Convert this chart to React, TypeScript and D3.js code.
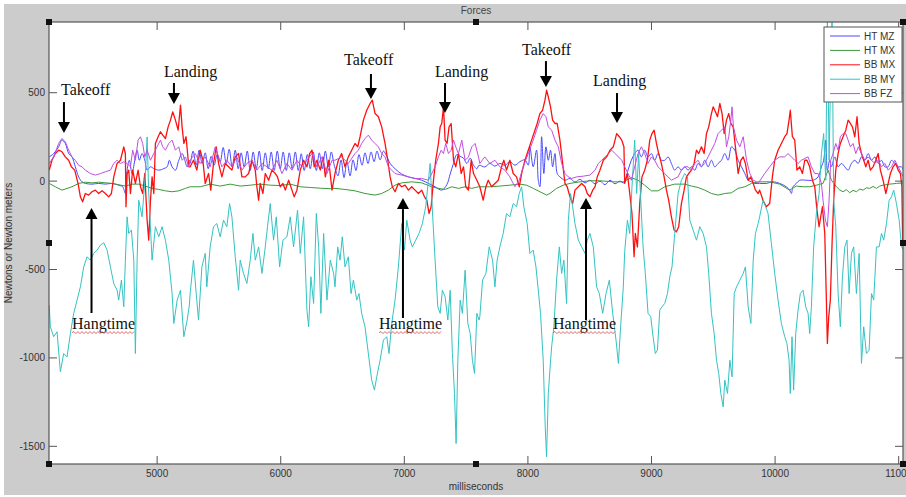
import React from 'react';
import * as d3 from 'd3';

// ---- axes ----
const X_DOMAIN: [number, number] = [4125, 11035];
const Y_DOMAIN: [number, number] = [-1600, 900];
const X_TICKS = [5000, 6000, 7000, 8000, 9000, 10000, 11000];
const Y_TICKS = [-1500, -1000, -500, 0, 500];

type Pt = [number, number]; // [milliseconds, value]

// ---- series: HT MZ ----
const htMz: Pt[] = [
  [4127, 137], [4163, 156], [4203, 194], [4230, 232], [4257, 213], [4284, 156], [4311, 137], [4338, 81],
  [4365, 24], [4392, -4], [4419, -13], [4473, -17], [4527, -13], [4581, -17], [4635, -13], [4689, -23],
  [4721, -32], [4743, -70], [4757, 62], [4775, 118], [4797, 43], [4819, 118], [4838, 175], [4856, 118],
  [4878, 156], [4900, 118], [4919, 62], [4946, 81], [4973, 71], [5013, 62], [5054, 71], [5081, 81],
  [5099, 118], [5121, 81], [5148, 62], [5175, 118], [5202, 156], [5224, 118], [5243, 81], [5261, 118],
  [5267, 100], [5291, 170], [5316, 90], [5340, 175], [5364, 100], [5389, 160], [5413, 70], [5437, 140],
  [5461, 90], [5486, 150], [5510, 110], [5534, 190], [5559, 100], [5583, 180], [5607, 80], [5632, 175],
  [5656, 70], [5680, 160], [5704, 80], [5729, 170], [5753, 60], [5777, 165], [5802, 70], [5826, 170],
  [5850, 60], [5875, 160], [5899, 70], [5923, 165], [5947, 60], [5972, 170], [5996, 70], [6020, 165],
  [6045, 60], [6069, 160], [6093, 70], [6118, 165], [6142, 60], [6166, 155], [6190, 60], [6215, 150],
  [6239, 70], [6263, 165], [6288, 60], [6312, 160], [6336, 70], [6361, 170], [6385, 80], [6409, 165],
  [6433, 90], [6463, 30], [6488, 120], [6512, 20], [6536, 110], [6561, 30], [6585, 120], [6609, 60],
  [6633, 150], [6658, 90], [6682, 160], [6706, 100], [6731, 165], [6755, 110], [6779, 170], [6804, 120],
  [6831, 170], [6858, 140], [6885, 100], [6925, 70], [6979, 40], [7033, 24], [7087, 15], [7141, 5],
  [7195, -13], [7249, -32], [7303, -51], [7344, -20], [7371, 40], [7398, 100], [7425, 150], [7452, 140],
  [7479, 130], [7506, 100], [7533, 130], [7560, 90], [7587, 70], [7605, 90], [7651, 80], [7692, 100],
  [7733, 85], [7773, 100], [7814, 90], [7854, 110], [7895, 90], [7935, 110], [7976, 120], [8003, 90],
  [8016, 194], [8043, 81], [8070, 175], [8084, 5], [8097, -32], [8111, 251], [8129, 43], [8146, 194],
  [8165, 118], [8183, 175], [8200, 81], [8219, 156], [8237, 43], [8259, 24], [8300, 5], [8340, 15],
  [8381, -5], [8421, 10], [8462, -10], [8502, 5], [8543, -15], [8583, 0], [8624, -20], [8664, 5],
  [8705, -15], [8745, 0], [8777, -10], [8810, 62], [8837, 118], [8864, 156], [8891, 175], [8918, 137],
  [8945, 175], [8972, 137], [8999, 156], [9026, 118], [9053, 156], [9080, 118], [9107, 118], [9134, 137],
  [9161, 100], [9188, 62], [9215, 81], [9242, 62], [9269, 81], [9296, 62], [9323, 81], [9350, 62],
  [9377, 100], [9404, 81], [9431, 118], [9458, 81], [9485, 118], [9512, 81], [9539, 100], [9566, 118],
  [9593, 156], [9620, 118], [9647, 194], [9674, 175], [9701, 118], [9728, 81], [9755, 43], [9782, 5],
  [9809, -4], [9836, -13], [9875, -13], [9929, -13], [9983, -4], [10037, -13], [10091, -32], [10118, -51],
  [10132, -70], [10145, -32], [10172, -13], [10199, 5], [10253, 5], [10307, 5], [10348, 24], [10375, 81],
  [10393, 118], [10410, 232], [10423, 62], [10442, 118], [10456, 81], [10483, 137], [10510, 81], [10537, 100],
  [10564, 81], [10591, 62], [10618, 100], [10645, 118], [10672, 100], [10699, 137], [10726, 118], [10753, 156],
  [10780, 118], [10807, 137], [10834, 100], [10861, 118], [10888, 81], [10915, 81], [10942, 118], [10969, 100],
  [10996, 81], [11023, 81], [11039, 62],
];

// ---- series: HT MX ----
const htMx: Pt[] = [
  [4127, -13], [4176, -32], [4230, -51], [4311, -32], [4365, -13], [4419, -6], [4473, -10], [4527, -6],
  [4635, -13], [4743, -28], [4797, -17], [4851, -17], [4905, -28], [4959, -41], [5013, -47], [5067, -55],
  [5121, -60], [5175, -55], [5229, -41], [5267, -32], [5348, -32], [5429, -17], [5510, -28], [5591, -17],
  [5672, -28], [5753, -23], [5834, -17], [5915, -23], [5996, -25], [6077, -17], [6158, -32], [6239, -36],
  [6320, -40], [6401, -43], [6439, -41], [6520, -47], [6601, -55], [6682, -70], [6763, -79], [6817, -70],
  [6871, -51], [6925, -23], [6979, -10], [7060, -4], [7141, -10], [7222, -32], [7276, -41], [7330, -47],
  [7384, -32], [7438, -41], [7492, -32], [7546, -41], [7600, -32], [7692, -32], [7773, -28], [7854, -23],
  [7935, -17], [7989, -23], [8043, -41], [8097, -60], [8151, -79], [8178, -70], [8232, -41], [8286, -23],
  [8340, -13], [8421, -4], [8502, 2], [8583, 2], [8691, -4], [8772, -4], [8837, 20], [8891, 5],
  [8945, -23], [8999, -55], [9053, -55], [9107, -32], [9188, -17], [9269, -17], [9323, -28], [9377, -36],
  [9431, -51], [9485, -70], [9539, -79], [9593, -70], [9647, -66], [9701, -41], [9755, -32], [9809, -13],
  [9863, -4], [9956, -4], [10037, -17], [10118, -51], [10172, -28], [10226, -32], [10280, -32], [10334, -23],
  [10388, -13], [10429, 62], [10456, 5], [10496, -32], [10523, -50], [10550, -60], [10577, -48], [10604, -66],
  [10631, -52], [10658, -60], [10685, -45], [10712, -51], [10739, -38], [10766, -41], [10793, -30], [10820, -41],
  [10847, -28], [10874, -23], [10928, -17], [10982, -13], [11039, -10],
];

// ---- series: BB MX ----
const bbMx: Pt[] = [
  [4127, 62], [4149, 118], [4176, 156], [4203, 175], [4230, 166], [4257, 137], [4284, 118], [4306, 81],
  [4333, 62], [4360, -13], [4379, -89], [4397, -117], [4419, -70], [4446, -79], [4473, -60], [4500, -51],
  [4527, -70], [4554, -55], [4581, -70], [4608, -89], [4630, -70], [4649, 24], [4676, 100], [4703, 118],
  [4730, 194], [4743, 156], [4748, -145], [4757, 43], [4770, 62], [4784, -70], [4802, 62], [4824, -13],
  [4846, 62], [4865, -32], [4883, -70], [4900, 43], [4919, -221], [4932, -334], [4946, -108], [4959, 24],
  [4973, -70], [4986, 213], [5008, 251], [5027, 279], [5045, 260], [5067, 241], [5089, 307], [5108, 345],
  [5126, 392], [5148, 345], [5170, 288], [5189, 430], [5202, 307], [5216, 213], [5234, 251], [5256, 81],
  [5267, 81], [5294, 118], [5321, 62], [5348, 175], [5370, 118], [5389, -13], [5416, 43], [5434, -51],
  [5456, 100], [5478, 194], [5497, 100], [5524, 24], [5551, 100], [5578, 81], [5605, 62], [5632, 137],
  [5659, 156], [5686, 24], [5713, 24], [5740, 43], [5767, 118], [5794, 62], [5807, -32], [5821, -108],
  [5834, -13], [5856, -70], [5875, 43], [5902, 5], [5929, 62], [5956, 43], [5974, 24], [5996, -32],
  [6018, -13], [6037, -51], [6064, 5], [6091, -51], [6109, -89], [6131, -51], [6158, 62], [6185, 118],
  [6212, 81], [6234, 156], [6253, 175], [6271, 81], [6293, 118], [6320, 62], [6342, 137], [6361, 24],
  [6388, 118], [6415, -51], [6439, 43], [6466, 118], [6493, 156], [6520, 81], [6547, 137], [6574, 175],
  [6601, 213], [6623, 194], [6642, 251], [6669, 345], [6696, 401], [6723, 439], [6741, 458], [6763, 382],
  [6790, 364], [6817, 307], [6844, 213], [6866, 118], [6885, 24], [6903, -32], [6925, -60], [6952, -13],
  [6979, -32], [7006, -23], [7033, -51], [7060, -32], [7087, -51], [7114, -70], [7141, -51], [7163, -89],
  [7182, -108], [7200, -183], [7217, -145], [7236, 5], [7254, 118], [7276, 213], [7290, 307], [7303, 326],
  [7317, 420], [7330, 232], [7346, 213], [7362, 307], [7379, 326], [7398, 118], [7416, 81], [7438, 156],
  [7460, 43], [7479, 81], [7497, -32], [7519, -51], [7541, 118], [7560, 43], [7587, 5], [7611, -32],
  [7638, -108], [7660, -32], [7679, 5], [7706, -32], [7733, -13], [7760, 5], [7787, 81], [7805, 118],
  [7827, 62], [7854, 118], [7881, 43], [7908, 24], [7930, -32], [7949, 43], [7976, 118], [8003, 175],
  [8030, 232], [8057, 288], [8075, 326], [8097, 382], [8119, 401], [8138, 458], [8151, 514], [8165, 477],
  [8183, 420], [8200, 345], [8219, 326], [8237, 326], [8259, 232], [8281, 100], [8300, -13], [8318, -32],
  [8340, -89], [8362, -127], [8381, -51], [8408, -32], [8435, -13], [8462, -32], [8480, -70], [8502, -89],
  [8524, -51], [8543, -32], [8561, 24], [8583, 62], [8610, 118], [8637, 137], [8664, 175], [8691, 194],
  [8718, 269], [8740, 251], [8759, 232], [8777, 194], [8783, -13], [8805, 43], [8824, -70], [8842, -183],
  [8859, -428], [8869, -296], [8886, -372], [8905, -127], [8923, 24], [8945, 62], [8967, 118], [8986, 232],
  [9004, 269], [9021, 288], [9040, 213], [9058, 156], [9080, 100], [9102, 24], [9121, -51], [9139, -108],
  [9161, -202], [9183, -277], [9202, -287], [9220, -258], [9242, -127], [9264, -51], [9283, 24], [9301, 43],
  [9323, 62], [9345, 100], [9364, 175], [9382, 156], [9404, 194], [9426, 156], [9445, 269], [9463, 307],
  [9485, 382], [9499, 420], [9512, 401], [9534, 364], [9553, 439], [9571, 382], [9588, 269], [9607, 345],
  [9625, 382], [9642, 326], [9661, 307], [9679, 194], [9701, 43], [9723, 118], [9742, 137], [9760, 100],
  [9782, 5], [9804, 24], [9823, -13], [9841, -51], [9863, -70], [9875, -51], [9902, -108], [9929, -145],
  [9956, -127], [9978, 24], [9997, 118], [10024, 175], [10051, 213], [10078, 251], [10096, 269], [10113, 345],
  [10123, 401], [10140, 251], [10159, 232], [10177, 62], [10199, 81], [10221, 43], [10240, 118], [10258, 118],
  [10280, 81], [10302, 5], [10321, -32], [10339, -164], [10356, -258], [10369, -202], [10383, -145], [10402, -296],
  [10415, -673], [10423, -918], [10434, -767], [10447, -673], [10461, -353], [10474, -108], [10491, 62], [10510, 156],
  [10528, 213], [10550, 251], [10572, 288], [10591, 345], [10609, 326], [10626, 307], [10645, 251], [10663, 364],
  [10680, 213], [10699, 156], [10717, 118], [10734, 81], [10753, 118], [10771, 62], [10793, 81], [10815, 118],
  [10834, 156], [10852, 62], [10874, 5], [10896, -70], [10915, -13], [10933, 43], [10955, 81], [10977, 100],
  [10996, 62], [11014, 43], [11026, -32], [11032, -340],
];

// ---- series: BB MY ----
const bbMy: Pt[] = [
  [4127, -701], [4136, -824], [4163, -880], [4190, -852], [4217, -1078], [4244, -975], [4271, -994], [4298, -862],
  [4325, -748], [4352, -673], [4379, -598], [4406, -485], [4433, -428], [4460, -447], [4487, -409], [4514, -390],
  [4541, -362], [4568, -349], [4595, -390], [4622, -485], [4649, -579], [4676, -617], [4689, -673], [4711, -560],
  [4730, -711], [4743, -447], [4757, -202], [4770, -296], [4792, -277], [4811, -447], [4824, -975], [4838, -447],
  [4851, -108], [4878, -202], [4905, 43], [4919, 250], [4932, -70], [4959, -447], [4986, -258], [5013, -315],
  [5040, -258], [5067, -334], [5094, -447], [5121, -636], [5135, -805], [5162, -673], [5189, -617], [5216, -880],
  [5243, -786], [5261, -700], [5267, -636], [5294, -447], [5316, -636], [5335, -786], [5362, -485], [5389, -409],
  [5402, -598], [5429, -372], [5456, -258], [5483, -240], [5510, -315], [5537, -221], [5564, -258], [5586, -127],
  [5605, -202], [5632, -428], [5659, -617], [5672, -447], [5699, -522], [5726, -579], [5753, -447], [5775, -296],
  [5794, -447], [5821, -372], [5848, -522], [5875, -372], [5893, -258], [5915, -127], [5942, -334], [5964, -202],
  [5991, -485], [6018, -334], [6050, -315], [6077, -202], [6104, -372], [6136, -164], [6158, -409], [6185, -202],
  [6212, -730], [6226, -824], [6244, -541], [6266, -692], [6288, -183], [6307, -372], [6325, -748], [6347, -296],
  [6374, -673], [6401, -447], [6428, -522], [6439, -598], [6461, -372], [6480, -447], [6498, -315], [6520, -485],
  [6547, -428], [6569, -636], [6588, -560], [6615, -673], [6633, -636], [6655, -748], [6682, -824], [6709, -975],
  [6736, -1126], [6758, -1182], [6777, -1107], [6804, -1013], [6831, -899], [6858, -880], [6876, -975], [6898, -805],
  [6925, -673], [6952, -485], [6979, -240], [7001, -390], [7020, -221], [7047, -334], [7065, -372], [7092, -334],
  [7119, -296], [7146, -240], [7173, -145], [7195, 5], [7209, 100], [7227, -164], [7249, -447], [7271, -711],
  [7290, -748], [7308, -617], [7330, -654], [7352, -786], [7371, -617], [7389, -975], [7406, -1201], [7419, -1484],
  [7433, -1013], [7452, -673], [7470, -748], [7492, -504], [7514, -805], [7533, -862], [7551, -1013], [7568, -1088],
  [7587, -748], [7605, -786], [7611, -767], [7633, -560], [7660, -522], [7687, -372], [7714, -447], [7733, -598],
  [7751, -447], [7773, -372], [7800, -296], [7827, -183], [7854, -202], [7881, -127], [7908, -145], [7930, -70],
  [7949, -32], [7967, -145], [7994, -240], [8016, -409], [8043, -390], [8065, -485], [8084, -617], [8102, -748],
  [8124, -1013], [8140, -1390], [8151, -1559], [8165, -1201], [8178, -1069], [8192, -937], [8210, -824], [8232, -560],
  [8254, -372], [8273, -522], [8291, -447], [8313, -692], [8327, -221], [8345, -70], [8362, -145], [8381, -240],
  [8408, -334], [8435, -372], [8462, -409], [8480, -334], [8502, -296], [8529, -372], [8556, -598], [8578, -636],
  [8605, -748], [8632, -636], [8659, -560], [8686, -748], [8713, -899], [8732, -1031], [8750, -824], [8772, -598],
  [8783, -400], [8805, -221], [8824, -296], [8842, -32], [8864, 232], [8880, -70], [8896, 156], [8913, -108],
  [8932, -372], [8950, -522], [8972, -748], [8994, -767], [9013, -880], [9031, -975], [9048, -956], [9067, -730],
  [9085, -711], [9107, -692], [9129, -636], [9148, -541], [9166, -485], [9188, -296], [9215, -70], [9242, 5],
  [9269, 43], [9291, 24], [9310, -221], [9337, -277], [9364, -334], [9391, -258], [9418, -296], [9445, -372],
  [9463, -522], [9485, -748], [9507, -862], [9526, -1013], [9544, -1088], [9561, -1201], [9580, -1277], [9593, -1126],
  [9615, -1201], [9634, -1013], [9652, -1107], [9669, -636], [9688, -598], [9715, -560], [9742, -522], [9760, -485],
  [9782, -711], [9804, -805], [9823, -447], [9841, -296], [9863, -240], [9875, -202], [9902, -108], [9924, -145],
  [9943, -183], [9970, -353], [9997, -522], [10024, -673], [10051, -805], [10078, -880], [10096, -918], [10113, -1013],
  [10123, -1201], [10137, -880], [10150, -1182], [10167, -862], [10186, -730], [10204, -636], [10226, -617], [10248, -711],
  [10267, -748], [10280, -862], [10294, -711], [10312, -372], [10334, -183], [10356, -70], [10375, 156], [10393, 269],
  [10410, 5], [10423, 950], [10437, 118], [10447, 496], [10461, 950], [10474, -108], [10491, -258], [10510, -636],
  [10528, -824], [10545, -541], [10564, -372], [10582, -334], [10599, -636], [10618, -409], [10636, -372], [10658, -636],
  [10680, -409], [10699, -1031], [10717, -824], [10739, -975], [10761, -956], [10780, -636], [10798, -673], [10820, -372],
  [10842, -372], [10861, -296], [10879, -334], [10901, -240], [10923, -108], [10942, -89], [10960, -51], [10982, -127],
  [11004, -221], [11023, -372], [11039, -390],
];

// ---- series: BB FZ ----
const bbFz: Pt[] = [
  [4127, 100], [4163, 137], [4203, 213], [4230, 241], [4257, 222], [4284, 175], [4311, 137], [4338, 118],
  [4365, 89], [4392, 81], [4419, 62], [4460, 43], [4500, 34], [4541, 43], [4581, 53], [4622, 62],
  [4649, 100], [4676, 118], [4703, 100], [4730, 109], [4757, 100], [4784, 81], [4802, 175], [4824, 118],
  [4846, 232], [4865, 251], [4883, 213], [4900, 137], [4919, 175], [4946, 118], [4973, 156], [4999, 194],
  [5027, 232], [5045, 194], [5067, 175], [5094, 213], [5121, 232], [5148, 175], [5175, 194], [5202, 118],
  [5229, 137], [5256, 81], [5267, 118], [5308, 156], [5348, 100], [5389, 137], [5429, 81], [5470, 194],
  [5497, 137], [5524, 81], [5564, 118], [5605, 81], [5645, 137], [5686, 62], [5726, 100], [5767, 118],
  [5807, 62], [5848, 100], [5888, 81], [5929, 62], [5969, 118], [6010, 43], [6050, 100], [6091, 62],
  [6131, 118], [6172, 81], [6212, 118], [6253, 156], [6293, 81], [6334, 137], [6374, 43], [6415, 118],
  [6439, 118], [6493, 137], [6547, 100], [6601, 156], [6628, 175], [6655, 213], [6682, 241], [6709, 260],
  [6736, 232], [6763, 213], [6790, 194], [6817, 156], [6844, 137], [6871, 81], [6898, 62], [6925, 43],
  [6979, 34], [7033, 24], [7087, 15], [7141, 15], [7195, 5], [7249, 81], [7276, 137], [7298, 175],
  [7317, 156], [7335, 213], [7357, 156], [7379, 175], [7398, 232], [7416, 194], [7438, 156], [7465, 232],
  [7492, 118], [7519, 137], [7546, 194], [7573, 213], [7600, 137], [7611, 100], [7651, 137], [7692, 100],
  [7733, 118], [7773, 81], [7814, 62], [7854, 24], [7895, -32], [7930, 5], [7962, 81], [8003, 156],
  [8043, 232], [8070, 288], [8097, 345], [8124, 382], [8146, 364], [8165, 307], [8192, 288], [8219, 232],
  [8246, 194], [8273, 100], [8300, 43], [8327, 24], [8354, 15], [8394, 24], [8448, 28], [8502, 34],
  [8543, 62], [8570, 100], [8597, 118], [8624, 137], [8651, 156], [8678, 175], [8705, 156], [8732, 137],
  [8759, 118], [8777, 90], [8810, 43], [8837, 5], [8864, 81], [8891, 156], [8918, 194], [8945, 156],
  [8972, 100], [8999, 137], [9026, 118], [9053, 81], [9080, 62], [9107, 43], [9134, 24], [9161, 5],
  [9188, 15], [9215, 24], [9242, 62], [9269, 81], [9296, 81], [9323, 62], [9350, 100], [9377, 118],
  [9404, 81], [9431, 100], [9458, 137], [9485, 175], [9512, 213], [9539, 269], [9566, 288], [9593, 307],
  [9607, 194], [9625, 251], [9642, 345], [9652, 420], [9663, 307], [9688, 232], [9715, 194], [9742, 251],
  [9769, 118], [9796, 43], [9823, 5], [9850, -4], [9863, -13], [9875, 0], [9916, 43], [9956, 81],
  [9997, 118], [10037, 137], [10078, 137], [10105, 156], [10132, 137], [10159, 118], [10186, 100], [10213, 118],
  [10240, 128], [10267, 137], [10294, 81], [10321, 43], [10348, 43], [10375, -13], [10388, -108], [10407, -221],
  [10423, -258], [10437, -108], [10450, 118], [10469, 156], [10491, 213], [10510, 175], [10528, 251], [10550, 269],
  [10572, 269], [10591, 232], [10609, 194], [10631, 213], [10653, 156], [10674, 194], [10699, 156], [10726, 118],
  [10753, 137], [10780, 118], [10807, 100], [10834, 118], [10861, 81], [10888, 100], [10915, 62], [10942, 81],
  [10969, 118], [10996, 81], [11023, 43], [11039, 24],
];

const SERIES_NAMES = ['HT MZ', 'HT MX', 'BB MX', 'BB MY', 'BB FZ'];
const SERIES_COLORS = ['#4a4aff', '#3a9a3a', '#ff1010', '#33c3c3', '#c24ee0'];
const SERIES_DATA = [htMz, htMx, bbMx, bbMy, bbFz];

// ---- event annotations: label, arrow (ms, from, to), text anchor (ms, baseline value) ----
const EVENT_LABELS = ['Takeoff', 'Landing', 'Takeoff', 'Landing', 'Takeoff', 'Landing', 'Hangtime', 'Hangtime', 'Hangtime'];
const EVENT_ARROW_MS = [4246, 5136, 6730, 7329, 8146, 8721, 4469, 6989, 8470];
const EVENT_ARROW_FROM = [447, 555, 606, 555, 679, 498, -746, -774, -786];
const EVENT_ARROW_TO = [272, 436, 464, 385, 532, 329, -152, -96, -96];
const EVENT_TEXT_MS = [4222, 5055, 6512, 7248, 7952, 8527, 4311, 6795, 8203];
const EVENT_TEXT_VAL = [487, 589, 657, 589, 713, 538, -837, -837, -837];

const W = 906;
const H = 497;
const PLOT = { left: 49, right: 903, top: 22, bottom: 464 };

export default function App() {
  const x = d3.scaleLinear().domain(X_DOMAIN).range([PLOT.left, PLOT.right]);
  const y = d3.scaleLinear().domain(Y_DOMAIN).range([PLOT.bottom, PLOT.top]);
  const line = d3
    .line<Pt>()
    .x((d) => x(d[0]))
    .y((d) => y(d[1]));
  // HT MZ is a smooth oscillation; draw it with a spline through the samples
  const smoothLine = d3
    .line<Pt>()
    .x((d) => x(d[0]))
    .y((d) => y(d[1]))
    .curve(d3.curveCatmullRom.alpha(0.5));

  const axisColor = '#555';
  const labelColor = '#333';
  const sans = 'Arial, "Liberation Sans", sans-serif';
  const serif = '"Times New Roman", "Liberation Serif", serif';

  const midX = (PLOT.left + PLOT.right) / 2;
  const midY = (PLOT.top + PLOT.bottom) / 2;
  const handles: [number, number][] = [
    [PLOT.left, PLOT.top], [midX, PLOT.top], [PLOT.right, PLOT.top],
    [PLOT.left, midY], [PLOT.right, midY],
    [PLOT.left, PLOT.bottom], [midX, PLOT.bottom], [PLOT.right, PLOT.bottom],
  ];

  const legend = { x: 824, y: 27, w: 78, h: 75 };

  // wavy underline path (spell-check squiggle)
  const squiggle = (x0: number, x1: number, yy: number) => {
    let p = `M${x0},${yy}`;
    let up = true;
    for (let xx = x0 + 2; xx <= x1; xx += 2) {
      p += ` L${xx},${yy + (up ? -1 : 1)}`;
      up = !up;
    }
    return p;
  };

  return (
    <svg
      width={W}
      height={H}
      style={{ position: 'absolute', left: 0, top: 0, display: 'block' }}
      xmlns="http://www.w3.org/2000/svg"
    >
      <defs>
        <clipPath id="plot-clip">
          <rect x={PLOT.left} y={PLOT.top} width={PLOT.right - PLOT.left} height={PLOT.bottom - PLOT.top} />
        </clipPath>
      </defs>
      <rect x={0} y={0} width={W} height={H} fill="#ffffff" />
      <rect x={4} y={4} width={W - 4} height={H - 6} fill="#cccccc" />
      <rect
        x={PLOT.left}
        y={PLOT.top}
        width={PLOT.right - PLOT.left}
        height={PLOT.bottom - PLOT.top}
        fill="#ffffff"
      />

      {/* series */}
      <g clipPath="url(#plot-clip)">
        {SERIES_DATA.map((data, i) => (
          <path
            key={SERIES_NAMES[i]}
            d={(i === 0 ? smoothLine(data) : line(data)) || ''}
            fill="none"
            stroke={SERIES_COLORS[i]}
            strokeWidth={i === 2 ? 1.3 : 1}
            strokeLinejoin="round"
          />
        ))}
      </g>

      {/* axes box */}
      <rect
        x={PLOT.left}
        y={PLOT.top}
        width={PLOT.right - PLOT.left}
        height={PLOT.bottom - PLOT.top}
        fill="none"
        stroke={axisColor}
        strokeWidth={1.2}
      />

      {/* x ticks */}
      {X_TICKS.map((t) => (
        <g key={`xt${t}`}>
          <line x1={x(t)} x2={x(t)} y1={PLOT.bottom} y2={PLOT.bottom - 8} stroke={axisColor} strokeWidth={1} />
          <line x1={x(t)} x2={x(t)} y1={PLOT.top} y2={PLOT.top + 8} stroke={axisColor} strokeWidth={1} />
          <text x={x(t)} y={477} textAnchor="middle" fontFamily={sans} fontSize={10} fill={labelColor}>
            {t}
          </text>
        </g>
      ))}

      {/* y ticks */}
      {Y_TICKS.map((t) => (
        <g key={`yt${t}`}>
          <line x1={PLOT.left} x2={PLOT.left + 8} y1={y(t)} y2={y(t)} stroke={axisColor} strokeWidth={1} />
          <line x1={PLOT.right} x2={PLOT.right - 8} y1={y(t)} y2={y(t)} stroke={axisColor} strokeWidth={1} />
          <text x={45} y={y(t) + 3.5} textAnchor="end" fontFamily={sans} fontSize={10} fill={labelColor}>
            {t}
          </text>
        </g>
      ))}

      {/* titles */}
      <text x={476} y={14} textAnchor="middle" fontFamily={sans} fontSize={10} fill="#444">
        Forces
      </text>
      <text x={476} y={490} textAnchor="middle" fontFamily={sans} fontSize={10} fill={labelColor}>
        milliseconds
      </text>
      <text
        transform={`translate(12,${midY}) rotate(-90)`}
        textAnchor="middle"
        fontFamily={sans}
        fontSize={10}
        fill={labelColor}
      >
        Newtons or Newton meters
      </text>

      {/* legend */}
      <g>
        <rect x={legend.x} y={legend.y} width={legend.w} height={legend.h} fill="#ffffff" stroke="#555" strokeWidth={1} />
        {SERIES_NAMES.map((name, i) => {
          const ly = legend.y + 9 + i * 14.4;
          return (
            <g key={`lg${name}`}>
              <line x1={830} x2={860} y1={ly} y2={ly} stroke={SERIES_COLORS[i]} strokeWidth={1} />
              <text x={864} y={ly + 3.5} fontFamily={sans} fontSize={10} fill={labelColor}>
                {name}
              </text>
            </g>
          );
        })}
      </g>

      {/* event annotations */}
      {EVENT_LABELS.map((label, i) => {
        const ax = x(EVENT_ARROW_MS[i]);
        const y0 = y(EVENT_ARROW_FROM[i]);
        const y1 = y(EVENT_ARROW_TO[i]);
        const dir = y1 > y0 ? 1 : -1;
        const headLen = 11;
        const headHalf = 6;
        const yb = y1 - dir * headLen;
        const tx = x(EVENT_TEXT_MS[i]);
        const ty = y(EVENT_TEXT_VAL[i]);
        const isHang = label === 'Hangtime';
        return (
          <g key={`ev${i}`}>
            <line x1={ax} x2={ax} y1={y0} y2={yb} stroke="#000" strokeWidth={2} />
            <path d={`M${ax - headHalf},${yb} L${ax + headHalf},${yb} L${ax},${y1} Z`} fill="#000" />
            <text x={tx} y={ty} fontFamily={serif} fontSize={16} fill="#111">
              {label}
            </text>
            {isHang && (
              <path d={squiggle(tx, tx + 63, ty + 3.5)} fill="none" stroke="#e04040" strokeWidth={0.8} />
            )}
          </g>
        );
      })}

      {/* selection handles */}
      {handles.map(([hx, hy], i) => (
        <rect key={`h${i}`} x={hx - 3} y={hy - 3} width={6} height={6} fill="#111" />
      ))}
    </svg>
  );
}
